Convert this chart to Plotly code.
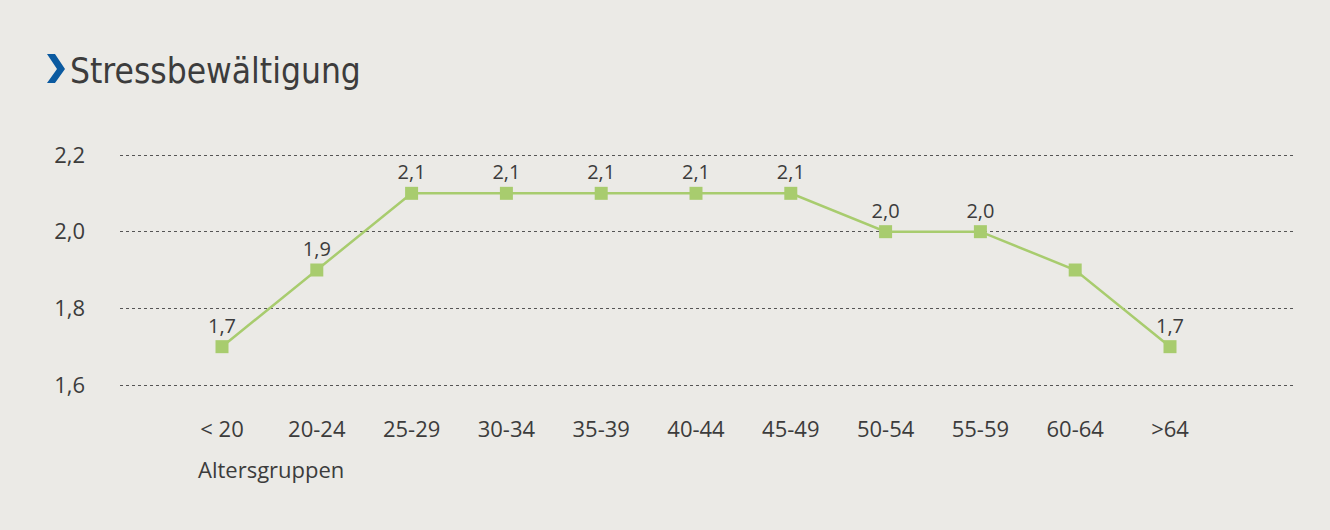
import plotly.graph_objects as go

# Altersgruppen und mittlere Werte zur Stressbewältigung
age_groups = ["< 20", "20-24", "25-29", "30-34", "35-39", "40-44",
              "45-49", "50-54", "55-59", "60-64", ">64"]
scores = [1.7, 1.9, 2.1, 2.1, 2.1, 2.1, 2.1, 2.0, 2.0, 1.9, 1.7]
show_label = [True, True, True, True, True, True, True, True, True, False, True]
y_ticks = [1.6, 1.8, 2.0, 2.2]

BG = "#ebeae6"
GREEN = "#a8cc6e"
TEXT = "#3c3c3c"
BLUE = "#0b5aa0"
FONT = "Open Sans, Noto Sans, sans-serif"

W, H = 1330, 530
L, R, T, B = 120, 35, 150, 140
PW, PH = W - L - R, H - T - B
Y_SCALE = 383.3  # pixels per unit on the value axis


def px(x):
    return (x - L) / PW


def py(y):
    return (H - B - y) / PH


labels = [f"{v:.1f}".replace(".", ",") if s else "" for v, s in zip(scores, show_label)]

fig = go.Figure()
fig.add_trace(go.Scatter(
    x=age_groups, y=scores,
    mode="lines+markers+text",
    line=dict(color=GREEN, width=2.5),
    marker=dict(symbol="square", size=13, color=GREEN),
    text=labels, textposition="top center",
    textfont=dict(family=FONT, size=20, color=TEXT),
    cliponaxis=False,
    hoverinfo="skip",
))

# blue chevron before the heading
chev = [(47, 54), (55, 54), (65, 69), (55, 83), (47, 83), (57, 69)]
path = "M " + " L ".join(f"{px(a):.5f},{py(b):.5f}" for a, b in chev) + " Z"
fig.add_shape(type="path", path=path, xref="paper", yref="paper",
              fillcolor=BLUE, line=dict(width=0))

fig.add_annotation(text="Stressbewältigung", xref="paper", yref="paper",
                   x=px(68), y=py(93), xanchor="left", yanchor="bottom",
                   showarrow=False,
                   font=dict(family="DejaVu Sans Condensed, Open Sans, sans-serif",
                             size=35, color=TEXT))
fig.add_annotation(text="Altersgruppen", xref="paper", yref="paper",
                   x=px(196), y=py(469), xanchor="left", yanchor="middle",
                   showarrow=False,
                   font=dict(family=FONT, size=22, color=TEXT))

spacing = 94.8
first = 222
fig.update_xaxes(
    type="category",
    range=[-(first - L) / spacing, (L + PW - first) / spacing],
    showgrid=False, zeroline=False, showline=False,
    ticks="", ticklabelstandoff=24,
    tickfont=dict(family=FONT, size=22, color=TEXT),
)
fig.update_yaxes(
    range=[1.6 - 5 / Y_SCALE, 2.2 + 5 / Y_SCALE],
    tickvals=y_ticks, tickformat=".1f",
    showgrid=True, gridcolor="#555555", gridwidth=1, griddash="dot",
    zeroline=False, showline=False,
    ticks="", ticklabelstandoff=34,
    tickfont=dict(family=FONT, size=22, color=TEXT),
)
fig.update_layout(
    width=W, height=H,
    margin=dict(l=L, r=R, t=T, b=B),
    paper_bgcolor=BG, plot_bgcolor=BG,
    separators=",.",
    showlegend=False,
)

fig.write_html("out.html")
